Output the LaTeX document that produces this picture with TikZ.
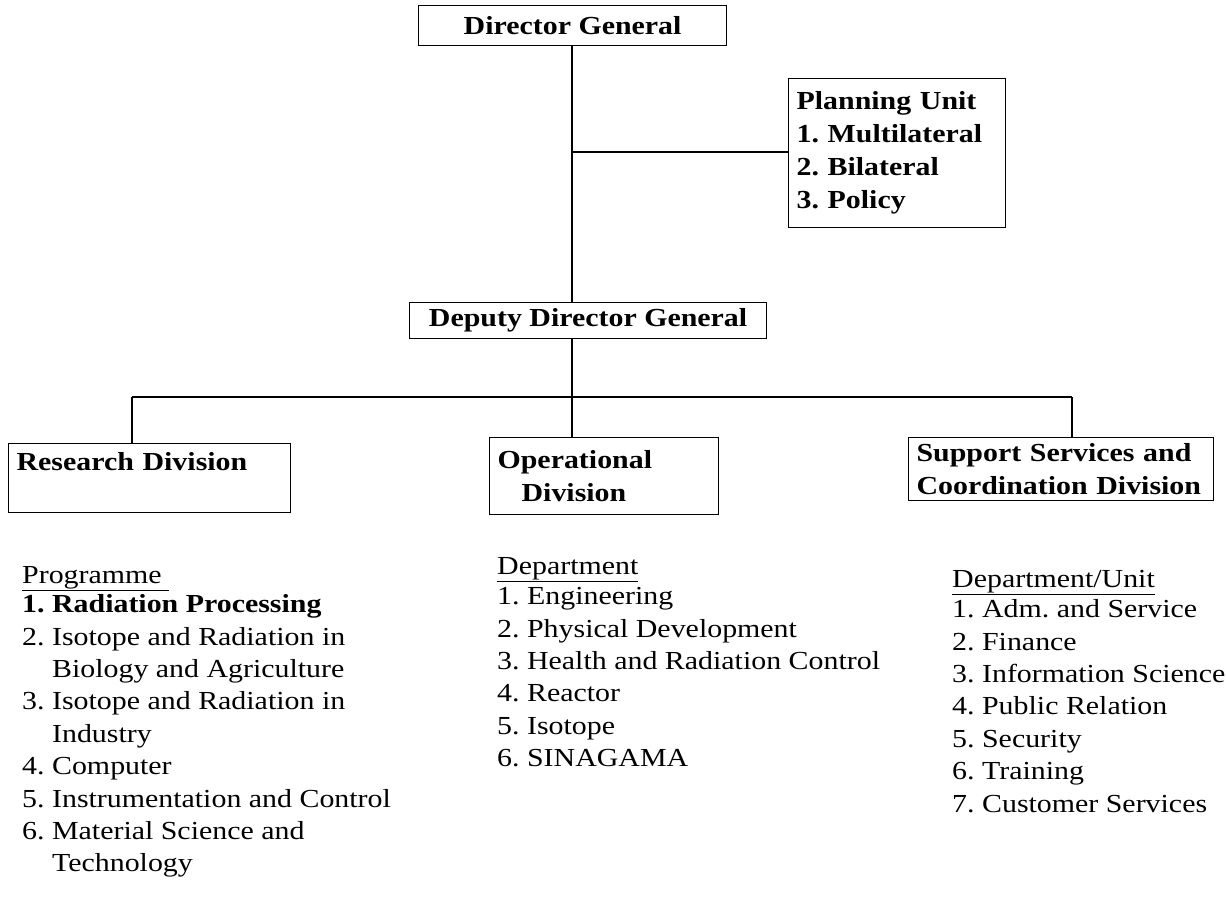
\documentclass[tikz,border=0pt]{standalone}
\usepackage{fontspec}
\setmainfont{Liberation Serif}[FakeStretch=1.15]
\frenchspacing
\hyphenpenalty=10000
\exhyphenpenalty=10000
\begin{document}
\begin{tikzpicture}[x=1pt,y=-1pt,
  box/.style={draw, line width=1.2pt, anchor=north west, inner ysep=0pt,
              font=\fontsize{26}{33}\selectfont\bfseries},
  lbox/.style={box, align=left, inner xsep=8pt},
  listtext/.style={anchor=north west, inner sep=0pt, align=left,
              font=\fontsize{26}{32.4}\selectfont},
  link/.style={line width=1.3pt},
  stem/.style={line width=2.6pt}]
\useasboundingbox (0,0) rectangle (1226,905);

% top of the hierarchy
\node[box, minimum width=308pt, minimum height=40pt] (dg) at (418,5) {Director General};
\node[lbox, minimum width=217pt, minimum height=149pt, text width=201pt] (plan) at (788,78)
  {Planning Unit\\1. Multilateral\\2. Bilateral\\3. Policy};
\node[box, minimum width=357pt, minimum height=36pt] (ddg) at (409,302) {Deputy Director General};

% divisions
\node[lbox, minimum width=282pt, minimum height=69pt, text width=266pt] (res) at (8,443)
  {Research Division\\\mbox{}};
\node[lbox, minimum width=229pt, minimum height=77pt, text width=213pt] (ops) at (489,437)
  {Operational\\\hspace*{24pt}Division};
\node[lbox, minimum width=305pt, minimum height=63pt, text width=289pt] (sup) at (908,437)
  {\mbox{Support Services and}\\\mbox{Coordination Division}};

% connectors
\coordinate (tap) at (572,152);
\coordinate (busL) at (132,397);
\coordinate (busR) at (1072,397);
\draw[stem] (dg.south -| tap) -- (tap |- ddg.north);
\draw[link] (tap) -- (tap -| plan.west);
\draw[stem] (tap |- ddg.south) -- (tap |- ops.north);
\draw[link] (busL) -- (busR);
\draw[link] (busL) -- (busL |- res.north);
\draw[link] (busR) -- (busR |- sup.north);

% lists under the divisions
\node[listtext] (prog) at (22,563) {\rule{0pt}{20pt}\underline{Programme\ }\\[-3pt]
  \textbf{1. Radiation Processing}\\
  2. Isotope and Radiation in\\
  \phantom{2. }Biology and Agriculture\\
  3. Isotope and Radiation in\\
  \phantom{3. }Industry\\
  4. Computer\\
  5. Instrumentation and Control\\
  6. Material Science and\\
  \phantom{6. }Technology};
\node[listtext] (dept) at (497,554) {\rule{0pt}{20pt}\underline{Department}\\[-2pt]
  1. Engineering\\
  2. Physical Development\\
  3. Health and Radiation Control\\
  4. Reactor\\
  5. Isotope\\
  6. SINAGAMA};
\node[listtext] (unit) at (952,567) {\rule{0pt}{20pt}\underline{Department/Unit}\\[-2pt]
  1. Adm. and Service\\
  2. Finance\\
  3. Information Science\\
  4. Public Relation\\
  5. Security\\
  6. Training\\
  7. Customer Services};
\end{tikzpicture}
\end{document}
